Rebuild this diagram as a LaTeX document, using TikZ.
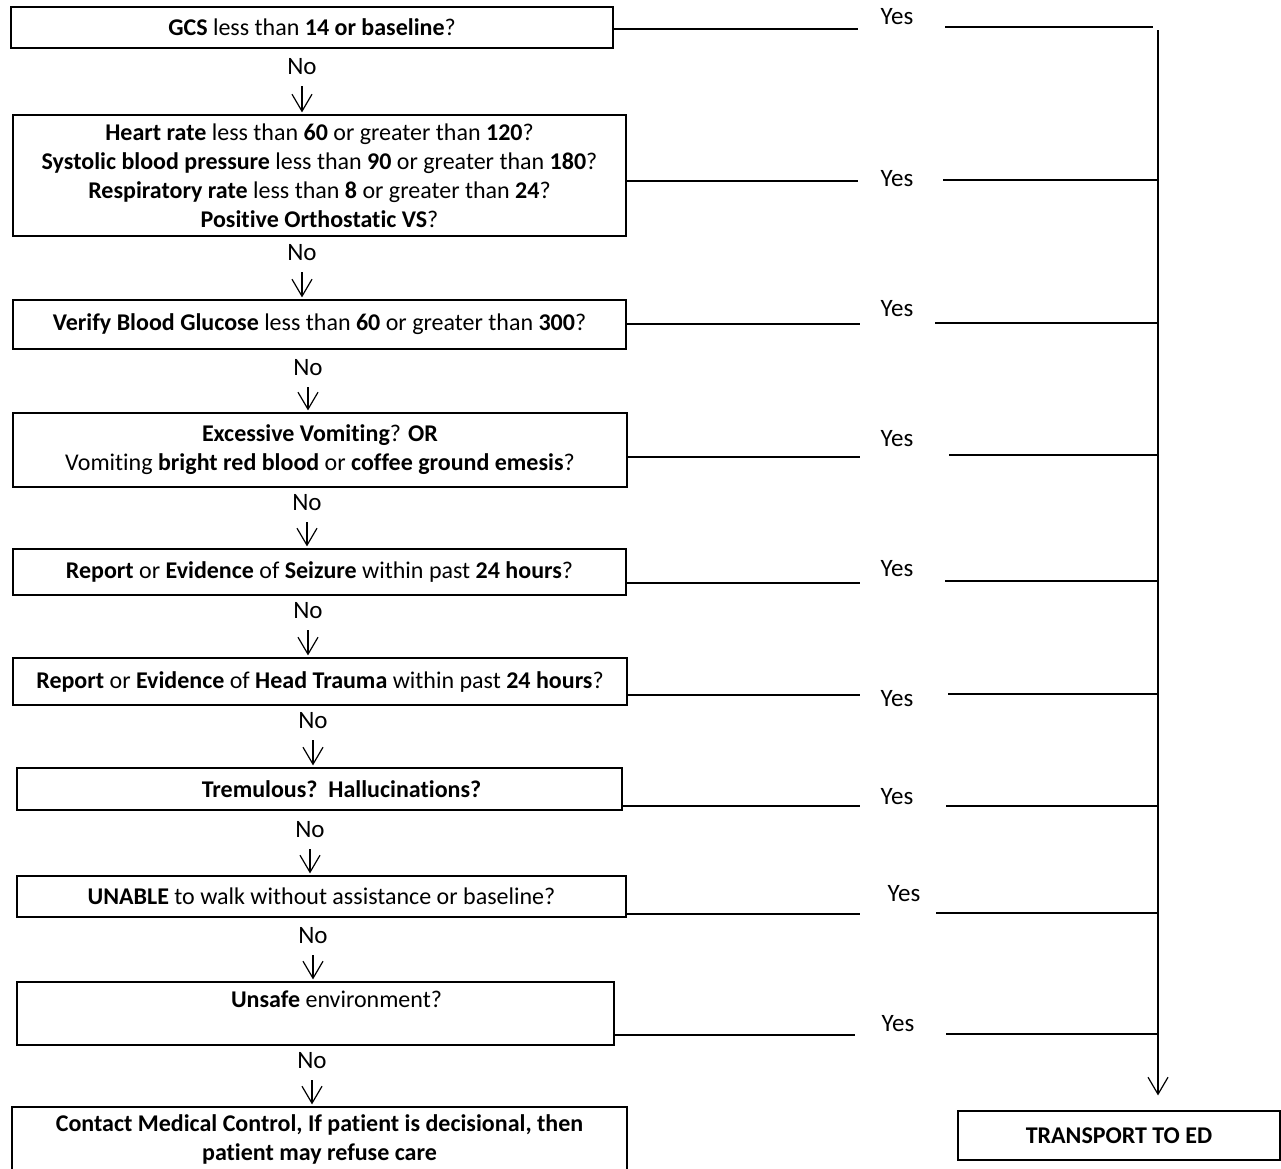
\documentclass[tikz,border=0pt]{standalone}
\usepackage{fontspec}
\setmainfont{Carlito}[Ligatures={NoCommon}]
\usetikzlibrary{arrows.meta}
\begin{document}
\begin{tikzpicture}[x=1pt,y=-1pt,
  qbox/.style={draw, line width=1.2pt, inner sep=0pt, align=center, font=\fontsize{24}{29}\selectfont},
  lbl/.style={font=\fontsize{25}{28}\selectfont, inner xsep=0pt, inner ysep=11pt},
  noarrow/.style={line width=1.2pt, shorten >=2pt, -{Straight Barb[length=17pt,width=20pt,line width=1.2pt]}},
  yesline/.style={line width=1.2pt},
]
\useasboundingbox (0,0) rectangle (1281,1168);

% question boxes
\node[qbox, minimum width=602pt, minimum height=41pt] (b1) at (312,27.5)
  {\textbf{GCS} less than \textbf{14 or baseline}?};
\node[qbox, minimum width=613pt, minimum height=121pt] (b2) at (319.5,175.5)
  {\textbf{Heart rate} less than \textbf{60} or greater than \textbf{120}?\\
   \textbf{Systolic blood pressure} less than \textbf{90} or greater than \textbf{180}?\\
   \textbf{Respiratory rate} less than \textbf{8} or greater than \textbf{24}?\\
   \textbf{Positive Orthostatic VS}?};
\node[qbox, minimum width=613pt, minimum height=49pt] (b3) at (319.5,324.5)
  {\textbf{Verify Blood Glucose} less than \textbf{60} or greater than \textbf{300}?};
\node[qbox, minimum width=614pt, minimum height=74pt] (b4) at (320,450)
  {\textbf{Excessive Vomiting}? \textbf{OR}\\
   Vomiting \textbf{bright red blood} or \textbf{coffee ground emesis}?};
\node[qbox, minimum width=613pt, minimum height=46pt] (b5) at (319.5,572)
  {\textbf{Report} or \textbf{Evidence} of \textbf{Seizure} within past \textbf{24 hours}?};
\node[qbox, minimum width=614pt, minimum height=47pt] (b6) at (320,681.5)
  {\textbf{Report} or \textbf{Evidence} of \textbf{Head Trauma} within past \textbf{24 hours}?};
\node[qbox, minimum width=605pt, minimum height=42pt] (b7) at (319.5,789)
  {\hspace*{44pt}\textbf{Tremulous?\ \ Hallucinations?}};
\node[qbox, minimum width=597pt, minimum height=63pt] (b9) at (315.5,1013.5)
  {\hspace*{42pt}\textbf{Unsafe} environment?\\ \mbox{}};
\node[qbox, minimum width=609pt, minimum height=41pt] (b8) at (321.5,896.5)
  {\textbf{UNABLE} to walk without assistance or baseline?};
\node[qbox, minimum width=615pt, minimum height=65pt] (b10) at (319.5,1139.5)
  {\textbf{Contact Medical Control, If patient is decisional, then}\\
   \textbf{patient may refuse care}};
\node[qbox, minimum width=322pt, minimum height=49pt] (t) at (1119,1135.5)
  {\textbf{TRANSPORT TO ED}};

% No labels and arrows
\node[lbl] (n1) at (302,67) {No};
\node[lbl] (n2) at (302,253) {No};
\node[lbl] (n3) at (308,368) {No};
\node[lbl] (n4) at (307,503) {No};
\node[lbl] (n5) at (308,611) {No};
\node[lbl] (n6) at (313,721) {No};
\node[lbl] (n7) at (310,830) {No};
\node[lbl] (n8) at (313,936) {No};
\node[lbl] (n9) at (312,1061) {No};
\draw[noarrow] (n1.south) -- (n1.south |- b2.north);
\draw[noarrow] (n2.south) -- (n2.south |- b3.north);
\draw[noarrow] (n3.south) -- (n3.south |- b4.north);
\draw[noarrow] (n4.south) -- (n4.south |- b5.north);
\draw[noarrow] (n5.south) -- (n5.south |- b6.north);
\draw[noarrow] (n6.south) -- (n6.south |- b7.north);
\draw[noarrow] (n7.south) -- (n7.south |- b8.north);
\draw[noarrow] (n8.south) -- (n8.south |- b9.north);
\draw[noarrow] (n9.south) -- (n9.south |- b10.north);

% Yes labels
\node[lbl, inner ysep=0pt] (y1) at (897,17) {Yes};
\node[lbl, inner ysep=0pt] (y2) at (897,179) {Yes};
\node[lbl, inner ysep=0pt] (y3) at (897,309) {Yes};
\node[lbl, inner ysep=0pt] (y4) at (897,439) {Yes};
\node[lbl, inner ysep=0pt] (y5) at (897,569) {Yes};
\node[lbl, inner ysep=0pt] (y6) at (897,699) {Yes};
\node[lbl, inner ysep=0pt] (y7) at (897,797) {Yes};
\node[lbl, inner ysep=0pt] (y8) at (904,894) {Yes};
\node[lbl, inner ysep=0pt] (y9) at (898,1024) {Yes};

% trunk
\coordinate (trunk) at (1158,30);
\draw[noarrow, shorten >=15pt] (trunk) -- (trunk |- t.north);

% yes line end points
\coordinate (l1) at (858,29);   \coordinate (r1) at (945,27);
\coordinate (l2) at (858,181);  \coordinate (r2) at (943,180);
\coordinate (l3) at (860,324);  \coordinate (r3) at (935,323);
\coordinate (l4) at (860,457);  \coordinate (r4) at (949,455);
\coordinate (l5) at (860,583);  \coordinate (r5) at (945,581);
\coordinate (l6) at (860,695);  \coordinate (r6) at (948,694);
\coordinate (l7) at (860,806);  \coordinate (r7) at (946,806);
\coordinate (l8) at (860,914);  \coordinate (r8) at (936,913);
\coordinate (l9) at (855,1035); \coordinate (r9) at (946,1034);

\draw[yesline] (b1.east |- l1) -- (l1);  \draw[yesline] (r1) -- ([xshift=-5pt]trunk |- r1);
\draw[yesline] (b2.east |- l2) -- (l2);  \draw[yesline] (r2) -- (trunk |- r2);
\draw[yesline] (b3.east |- l3) -- (l3);  \draw[yesline] (r3) -- (trunk |- r3);
\draw[yesline] (b4.east |- l4) -- (l4);  \draw[yesline] (r4) -- (trunk |- r4);
\draw[yesline] (b5.east |- l5) -- (l5);  \draw[yesline] (r5) -- (trunk |- r5);
\draw[yesline] (b6.east |- l6) -- (l6);  \draw[yesline] (r6) -- (trunk |- r6);
\draw[yesline] (b7.east |- l7) -- (l7);  \draw[yesline] (r7) -- (trunk |- r7);
\draw[yesline] (b8.east |- l8) -- (l8);  \draw[yesline] (r8) -- (trunk |- r8);
\draw[yesline] (b9.east |- l9) -- (l9);  \draw[yesline] (r9) -- (trunk |- r9);
\end{tikzpicture}
\end{document}
